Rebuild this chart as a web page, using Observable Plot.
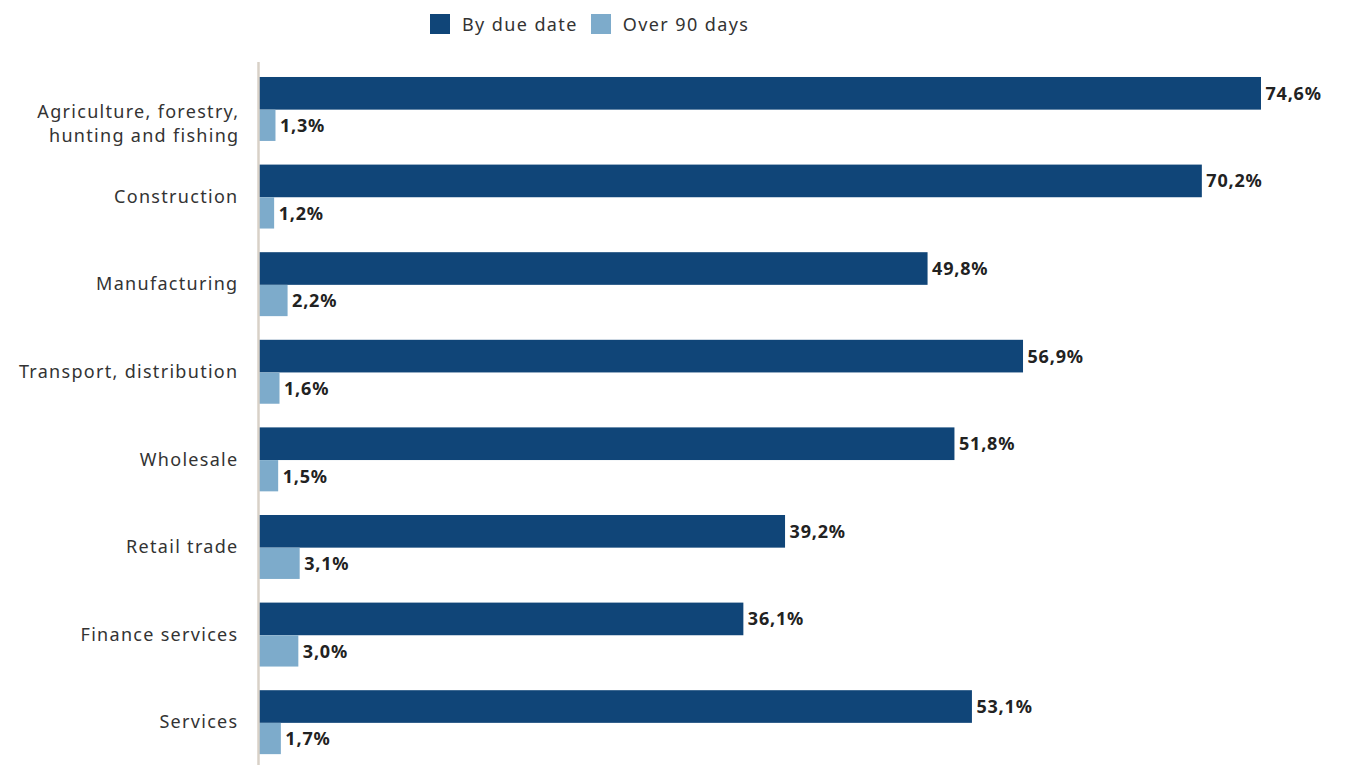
<!DOCTYPE html>
<html>
<head>
<meta charset="utf-8">
<script src="https://cdn.jsdelivr.net/npm/d3@7"></script>
<script src="https://cdn.jsdelivr.net/npm/@observablehq/plot@0.6"></script>
<style>
  html, body { margin: 0; padding: 0; background: #fff; }
  body { width: 1364px; height: 765px; overflow: hidden; font-family: "Noto Sans", sans-serif; }
  #legend { height: 48px; box-sizing: border-box; padding-left: 430px; padding-top: 14px; display: flex; align-items: flex-start; font-size: 18px; color: #333; letter-spacing: 1.4px; }
  #legend .sw { width: 20px; height: 20px; display: inline-block; margin-right: 12px; }
  #legend .item { display: flex; align-items: center; margin-right: 13px; }
  #legend .item span.t { line-height: 20px; }
  #chart g[aria-label="y-axis tick label"] text { letter-spacing: 1.3px; }
  #chart g.vlabel text { letter-spacing: 0.8px; }
</style>
</head>
<body>
<div id="legend"></div>
<div id="chart"></div>
<script>
const categories = [
  "Agriculture, forestry, hunting and fishing",
  "Construction",
  "Manufacturing",
  "Transport, distribution",
  "Wholesale",
  "Retail trade",
  "Finance services",
  "Services"
];
const seriesNames = ["By due date", "Over 90 days"];
const byDueDate = [74.6, 70.2, 49.8, 56.9, 51.8, 39.2, 36.1, 53.1];
const over90Days = [1.3, 1.2, 2.2, 1.6, 1.5, 3.1, 3.0, 1.7];
const colors = ["#104578", "#7dabcb"];

const fmt = v => v.toFixed(1).replace(".", ",") + "%";
const dueData = categories.map((c, i) => ({category: c, value: byDueDate[i]}));
const overData = categories.map((c, i) => ({category: c, value: over90Days[i]}));
const agri = categories[0];

const legend = document.getElementById("legend");
seriesNames.forEach((s, i) => {
  const item = document.createElement("div");
  item.className = "item";
  item.innerHTML = `<span class="sw" style="background:${colors[i]}"></span><span class="t">${s}</span>`;
  legend.appendChild(item);
});

const chart = Plot.plot({
  width: 1364,
  height: 717,
  marginLeft: 258,
  marginRight: 30.4,
  marginTop: 14,
  marginBottom: 0,
  style: {fontFamily: "Noto Sans, sans-serif", background: "#fff"},
  x: {domain: [0, 80], axis: null},
  y: {domain: categories, paddingInner: 0.27, paddingOuter: 0.1475, align: 0.58, round: false, label: null},
  marks: [
    Plot.barX(dueData, {x: "value", y: "category", fill: colors[0], insetBottom: 31.3}),
    Plot.barX(overData, {x: "value", y: "category", fill: colors[1], insetTop: 32.7}),
    Plot.text(dueData, {x: "value", y: "category", text: d => fmt(d.value), dx: 4, dy: -15.5, textAnchor: "start", fontWeight: "bold", fontSize: 18, fill: "#222", className: "vlabel"}),
    Plot.text(overData, {x: "value", y: "category", text: d => fmt(d.value), dx: 4, dy: 17, textAnchor: "start", fontWeight: "bold", fontSize: 18, fill: "#222", className: "vlabel"}),
    Plot.axisY(categories.slice(1), {tickSize: 0, tickPadding: 20, fontSize: 18, fill: "#333", label: null}),
    Plot.axisY([agri], {tickSize: 0, tickPadding: 19, fontSize: 18, fill: "#333", label: null, dy: 13, lineHeight: 1.3,
      tickFormat: () => "Agriculture, forestry,\nhunting and fishing"}),
    Plot.ruleX([0], {stroke: "#d8d1c7", strokeWidth: 2.5})
  ]
});
document.getElementById("chart").appendChild(chart);
</script>
</body>
</html>
